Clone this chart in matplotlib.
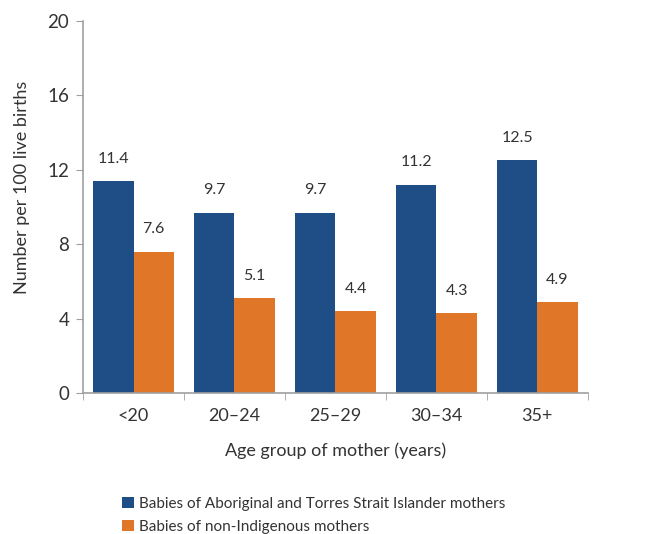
import matplotlib.pyplot as plt
import numpy as np

plt.rcParams['font.family'] = ['Lato', 'DejaVu Sans']

groups = ['<20', '20–24', '25–29', '30–34', '35+']
aboriginal = [11.4, 9.7, 9.7, 11.2, 12.5]
non_indigenous = [7.6, 5.1, 4.4, 4.3, 4.9]
series_names = ['Babies of Aboriginal and Torres Strait Islander mothers',
                'Babies of non-Indigenous mothers']

blue = '#1F4E87'
orange = '#E07628'
text_col = '#333333'
axis_col = '#A0A0A0'

fig = plt.figure(figsize=(6.59, 5.34), dpi=100)
ax = fig.add_axes([0.126, 0.264, 0.766, 0.697])

x = np.arange(len(groups))
w = 0.4
b1 = ax.bar(x - w / 2, aboriginal, w, color=blue, label=series_names[0])
b2 = ax.bar(x + w / 2, non_indigenous, w, color=orange, label=series_names[1])

for bars in (b1, b2):
    for r in bars:
        ax.annotate(f'{r.get_height():.1f}', (r.get_x() + r.get_width() / 2, r.get_height()),
                    xytext=(0, 11), textcoords='offset points', ha='center', va='bottom',
                    fontsize=11.5, color=text_col)

ax.set_xlim(-0.5, len(groups) - 0.5)
ax.set_ylim(0, 20)
ax.set_yticks([0, 4, 8, 12, 16, 20])
ax.set_xticks(x)
ax.set_xticklabels(groups)
ax.set_xticks(np.arange(-0.5, len(groups)), minor=True)
ax.tick_params(axis='x', which='major', length=0, pad=11, labelsize=13, labelcolor=text_col)
ax.tick_params(axis='x', which='minor', length=5, color=axis_col)
ax.tick_params(axis='y', length=5, color=axis_col, labelsize=13.5, labelcolor=text_col, pad=5)

for s in ['top', 'right']:
    ax.spines[s].set_visible(False)
for s in ['left', 'bottom']:
    ax.spines[s].set_color(axis_col)
    ax.spines[s].set_linewidth(1.2)

ax.set_xlabel('Age group of mother (years)', fontsize=13, color=text_col, labelpad=13)
ax.set_ylabel('Number per 100 live births', fontsize=13, color=text_col, va='center')
ax.yaxis.set_label_coords(-0.121, 0.553)

fig.legend(loc='lower left', bbox_to_anchor=(0.165, -0.025), frameon=False, fontsize=11,
           handlelength=0.75, handleheight=0.75, handletextpad=0.3, labelspacing=0.55,
           labelcolor=text_col)

fig.savefig('out.png', dpi=100)
